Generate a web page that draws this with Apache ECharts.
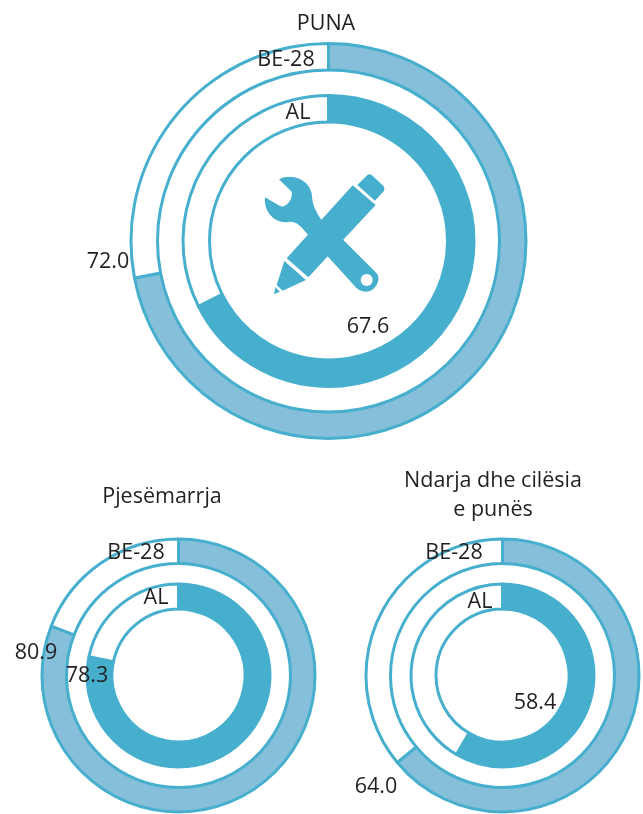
<!DOCTYPE html>
<html><head><meta charset="utf-8">
<style>html,body{margin:0;padding:0;background:#fff}#c{width:643px;height:814px}</style>
<script src="https://cdn.jsdelivr.net/npm/echarts@6/dist/echarts.min.js"></script>
</head><body><div id="c"></div>
<script>
const panels = ['PUNA', 'Pjesëmarrja', 'Ndarja dhe cilësia\ne punës'];
const groupNames = ['BE-28', 'AL'];
const euValues = [72.0, 80.9, 64.0];
const alValues = [67.6, 78.3, 58.4];

const DARK = '#47afce', LIGHT = '#86bfda', LINE = '#47afce', INK = '#231f20', FONT = '"Open Sans","Noto Sans",sans-serif';

const layout = [
  { c: [328.5, 241], eu: [171, 197.5], al: [119, 145.5],
    title: [326, 24], euName: [286, 60], alName: [298, 113], euVal: [108, 262], alVal: [368, 327] },
  { c: [178.5, 675.5], eu: [112, 136.5], al: [66.5, 91.5],
    title: [162, 497], euName: [136, 553], alName: [156, 598], euVal: [36, 653], alVal: [87, 676] },
  { c: [502.5, 675.5], eu: [112, 136.5], al: [66.5, 91.5],
    title: [493, 495], euName: [454, 553], alName: [480, 602], euVal: [376, 787], alVal: [535, 703] }
];

function ring(value, name, center, radius, color) {
  return {
    type: 'pie', name, center, radius, startAngle: 90, clockwise: true, silent: true,
    animation: false, label: { show: false }, labelLine: { show: false }, z: 2,
    emphasis: { disabled: true },
    itemStyle: { borderColor: LINE, borderWidth: 3 },
    data: [
      { name, value, itemStyle: { color } },
      { name: 'rest', value: +(100 - value).toFixed(1), itemStyle: { color: '#ffffff' } }
    ]
  };
}
const series = [], graphic = [];
function text(t, p, lh) {
  graphic.push({ type: 'text', x: p[0], y: p[1], z: 10, silent: true,
    style: { text: t, fill: INK, font: '21.5px ' + FONT, align: 'center', verticalAlign: 'middle', lineHeight: lh || 28 } });
}
panels.forEach((title, i) => {
  const l = layout[i];
  series.push(ring(euValues[i], groupNames[0], l.c, l.eu, LIGHT));
  series.push(ring(alValues[i], groupNames[1], l.c, l.al, DARK));
  text(title, l.title, 29);
  text(groupNames[0], l.euName);
  text(groupNames[1], l.alName);
  text(euValues[i].toFixed(1), l.euVal);
  text(alValues[i].toFixed(1), l.alVal);
});

// tools icon (paths in a 3x local space)
const iconPaths = [
  'M117 58C150 40 205 55 215 100C218 130 218 140 243 178L310 240L410 340C425 360 405 395 380 395C368 395 358 392 350 385L205 225C180 195 170 185 150 185C110 195 70 160 75 112L120 138C135 145 160 120 155 95Z',
  'M140 295L338 76L407 135L205 352Z',
  'M352 75L380 47C385 42 390 42 396 46L430 78C434 83 434 90 431 94L405 122Z',
  'M133 303L198 360L128 392L110 375Z',
  'M106 382L120 395L102 403Z'
];
series.push({
  type: 'custom', coordinateSystem: 'none', silent: true, animation: false, z: 5, data: [0],
  renderItem: () => ({
    type: 'group', x: 240, y: 160, scaleX: 1/3, scaleY: 1/3,
    children: iconPaths.map(p => ({ type: 'path', shape: { pathData: p }, style: { fill: DARK } }))
      .concat([{ type: 'circle', shape: { cx: 380, cy: 360, r: 18 }, style: { fill: '#fff' } }])
  })
});

echarts.init(document.getElementById('c'), null, { renderer: 'canvas' }).setOption({
  backgroundColor: '#fff', animation: false, series, graphic
});
</script></body></html>
